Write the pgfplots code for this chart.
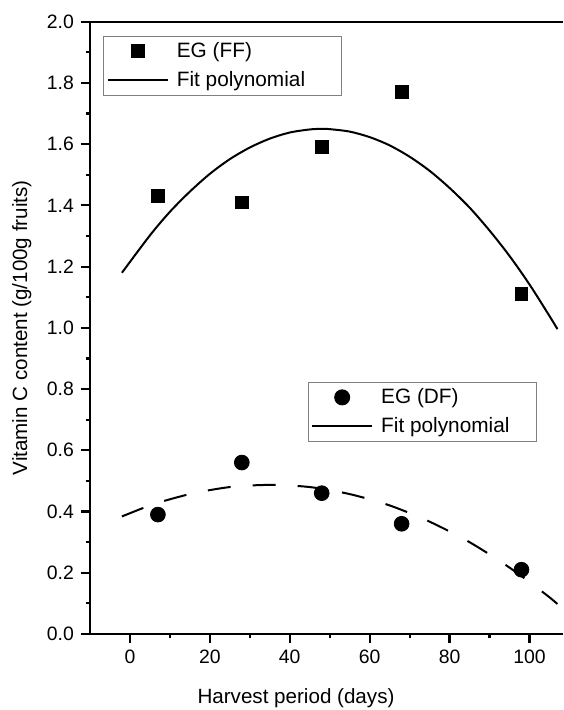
\documentclass[border=0pt]{standalone}
\usepackage{fontspec}
\setmainfont{Liberation Sans}
\usepackage{pgfplots}
\pgfplotsset{compat=1.18}

% harvest day, vitamin C (g/100g fruits)
\pgfplotstableread{
x y
7 1.43
28 1.41
48 1.59
68 1.77
98 1.11
}\ffdata
\pgfplotstableread{
x y
7 0.39
28 0.56
48 0.46
68 0.36
98 0.21
}\dfdata

\pgfplotsset{
  vcbase/.style={
    scale only axis, width=236.5pt, height=306.15pt,
    xmin=-10, xmax=108.4, ymin=0, ymax=2,
    clip=false,
  },
  vclegend/.style={
    legend cell align=left,
    legend style={draw=gray, line width=0.6pt, fill=white,
      font=\fontsize{10.4}{12.5}\selectfont,
      inner xsep=1.5pt, inner ysep=1pt, row sep=1.5pt,
      /tikz/every odd column/.append style={column sep=2pt}},
  },
  lineleg/.style={legend image code/.code={
    \draw[mark repeat=2,mark phase=2,##1] plot coordinates {(0pt,0pt) (15pt,0pt) (30pt,0pt)};}},
}

\begin{document}
\begin{tikzpicture}
\begin{axis}[vcbase, vclegend, name=main,
  axis x line*=bottom, axis y line*=left,
  axis line style={-, line width=1.1pt},
  tick style={line width=1.1pt, black},
  tick align=outside,
  major tick length=4.5pt, minor tick length=2.2pt,
  xtick={0,20,...,100}, minor x tick num=1,
  ytick={0,0.2,...,2.0}, minor y tick num=1,
  yticklabel style={/pgf/number format/.cd, fixed, fixed zerofill, precision=1},
  /pgf/number format/assume math mode=true,
  ticklabel style={font=\fontsize{9.7}{11.6}\selectfont},
  label style={font=\fontsize{10.3}{12.4}\selectfont},
  xlabel={Harvest period (days)},
  ylabel={Vitamin C content (g/100g fruits)},
  xlabel style={at={(axis description cs:0.4355,-0.1045)}, anchor=center},
  ylabel style={at={(axis description cs:-0.144,0.5)}, anchor=center},
  legend style={at={(axis description cs:0.028,0.977)}, anchor=north west},
]
\draw[line width=1.1pt] (rel axis cs:0,1) -- (rel axis cs:1,1);
\addplot[only marks, mark=square*, mark size=3.2pt, black, lineleg] table {\ffdata};
\addlegendentry{EG (FF)}
\addplot[black, line width=1pt, smooth, lineleg] coordinates {
(-2,1.180) (5,1.302) (10,1.379) (15,1.445) (20,1.503) (25,1.551) (30,1.589)
(35,1.618) (40,1.638) (45,1.648) (48,1.650) (50,1.649) (55,1.641) (60,1.623)
(65,1.596) (70,1.559) (75,1.513) (80,1.457) (85,1.393) (90,1.318) (95,1.235)
(100,1.142) (105,1.039) (107,0.996)};
\addlegendentry{\makebox[79pt][l]{Fit polynomial}}
\end{axis}

\begin{axis}[vcbase, vclegend, hide axis,
  legend style={at={(axis description cs:0.46,0.412)}, anchor=north west},
]
\addplot[only marks, mark=*, mark size=3.7pt, black, lineleg] table {\dfdata};
\addlegendentry{EG (DF)}
\addplot[black, line width=1pt, smooth, dash pattern=on 11.5pt off 11pt,
  lineleg, legend image post style={solid}] coordinates {
(-2,0.384) (5,0.420) (10,0.440) (15,0.457) (20,0.470) (25,0.480) (30,0.485)
(35,0.487) (40,0.485) (45,0.480) (50,0.470) (55,0.457) (60,0.440) (65,0.420)
(70,0.395) (75,0.367) (80,0.335) (85,0.300) (90,0.260) (95,0.217) (100,0.170)
(105,0.120) (107,0.098)};
\addlegendentry{\makebox[74pt][l]{Fit polynomial}}
\end{axis}

\pgfresetboundingbox
\path ([xshift=-45pt,yshift=-38pt]main.south west) rectangle ([yshift=10.85pt]main.north east);
\end{tikzpicture}
\end{document}
